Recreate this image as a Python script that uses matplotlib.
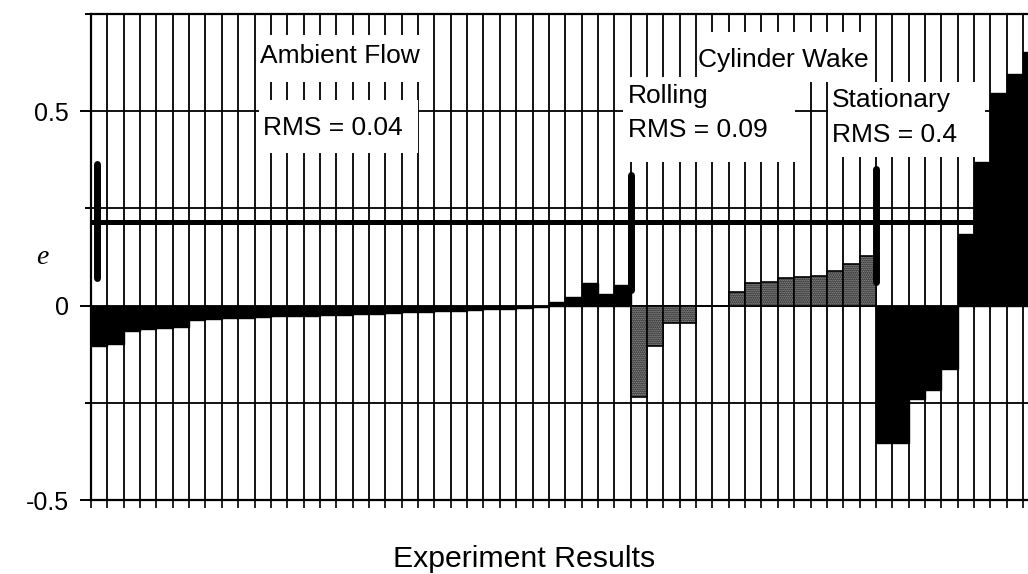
import numpy as np
import matplotlib
matplotlib.use("Agg")
import matplotlib.pyplot as plt
from matplotlib.patches import Rectangle

# Error e for each experiment run, grouped by flow condition
ambient_e = [-0.105, -0.100, -0.065, -0.060, -0.058, -0.055, -0.037, -0.035,
             -0.033, -0.031, -0.030, -0.028, -0.027, -0.026, -0.025, -0.023,
             -0.022, -0.021, -0.019, -0.017, -0.016, -0.015, -0.013, -0.012,
             -0.010, -0.008, -0.006, -0.004, 0.008, 0.022, 0.057, 0.031, 0.054]
rolling_e = [-0.235, -0.105, -0.046, -0.046, 0.0, 0.0, 0.035, 0.058, 0.060,
             0.071, 0.073, 0.077, 0.089, 0.108, 0.127]
stationary_e = [-0.354, -0.354, -0.240, -0.218, -0.163, 0.184, 0.369, 0.546,
                0.595, 0.652]

group_labels = ["Ambient Flow", "Rolling", "Stationary"]
group_rms = [0.04, 0.09, 0.4]
wake_label = "Cylinder Wake"

reference_e = 0.216
# group boundary markers: (position in runs, low e, high e)
marker_pos = [0.34, 33.0, 48.0]
marker_low = [0.07, 0.04, 0.06]
marker_high = [0.365, 0.335, 0.352]

yticks = [-0.5, 0, 0.5]
ytick_labels = ["-0.5", "0", "0.5"]

W, H, DPI = 1028, 574, 100
AX_L, AX_R, AX_T, AX_B = 91, 1028, 14, 500
XLIM = (0, 57.3)
YLIM = (-0.5, 0.75)

plt.rcParams["font.family"] = ["Liberation Sans", "DejaVu Sans"]

fig = plt.figure(figsize=(W / DPI, H / DPI), dpi=DPI)
ax = fig.add_axes([AX_L / W, (H - AX_B) / H, (AX_R - AX_L) / W, (AX_B - AX_T) / H])


def px(xp, yp):
    """Figure pixel position -> data coordinates of the axes."""
    x = XLIM[0] + (xp - AX_L) / (AX_R - AX_L) * (XLIM[1] - XLIM[0])
    y = YLIM[1] - (yp - AX_T) / (AX_B - AX_T) * (YLIM[1] - YLIM[0])
    return x, y


n_amb, n_rol, n_sta = len(ambient_e), len(rolling_e), len(stationary_e)
x_amb = np.arange(n_amb)
x_rol = np.arange(n_rol) + n_amb
x_sta = np.arange(n_sta) + n_amb + n_rol
n_total = n_amb + n_rol + n_sta

ax.bar(x_amb, ambient_e, width=1.0, align="edge", color="black",
       edgecolor="black", linewidth=1.0, zorder=3)
ax.bar(x_rol, rolling_e, width=1.0, align="edge", color="#a6a6a6",
       edgecolor="black", linewidth=1.2, hatch="........", zorder=3)
ax.bar(x_sta, stationary_e, width=1.0, align="edge", color="black",
       edgecolor="black", linewidth=1.0, zorder=3)

ax.axhline(reference_e, color="black", linewidth=3.6, zorder=4)
ax.vlines(marker_pos, marker_low, marker_high, color="black", linewidth=5,
          capstyle="round", zorder=4)

# grid: every run boundary and every 0.25 in e
ax.set_xticks(np.arange(0, n_total + 1))
ax.set_xticklabels([])
ax.set_yticks(yticks)
ax.set_yticklabels(ytick_labels)
ax.set_yticks([-0.25, 0.25, 0.75], minor=True)
ax.set_xlim(*XLIM)
ax.set_ylim(*YLIM)
ax.tick_params(axis="x", direction="out", length=5.8, width=1.2, color="black")
ax.tick_params(axis="y", which="major", direction="out", length=8, width=1.4,
               pad=8, labelsize=18)
ax.tick_params(axis="y", which="minor", direction="out", length=4.3, width=1.4)
ax.grid(True, axis="x", which="major", color="black", linewidth=1.3)
ax.grid(True, axis="y", which="both", color="black", linewidth=1.3)
ax.set_axisbelow(True)
for side in ("left", "top", "bottom"):
    ax.spines[side].set_linewidth(1.6)
ax.spines["right"].set_visible(False)

# white label panels
panels = [(259, 35, 420, 82), (259, 100, 418, 153), (697, 32, 875, 82),
          (623, 77, 795, 162), (828, 82, 985, 157)]
for x0p, y0p, x1p, y1p in panels:
    x0, y1 = px(x0p, y0p)
    x1, y0 = px(x1p, y1p)
    ax.add_patch(Rectangle((x0, y0), x1 - x0, y1 - y0, facecolor="white",
                           edgecolor="none", zorder=6, clip_on=False))

labels = [
    (group_labels[0], 260, 63),
    (f"RMS = {group_rms[0]}", 263, 135),
    (wake_label, 698, 67),
    (group_labels[1], 628, 103),
    (f"RMS = {group_rms[1]}", 628, 137),
    (group_labels[2], 832, 107),
    (f"RMS = {group_rms[2]}", 832, 142),
]
for text, xp, yp in labels:
    x, y = px(xp, yp)
    ax.text(x, y, text, fontsize=19, ha="left", va="baseline", zorder=7)

fig.text(42 / W, (H - 258) / H, "e", family=["Liberation Serif", "DejaVu Serif"],
         style="italic", fontsize=20, ha="center", va="center")
fig.text(524 / W, (H - 567) / H, "Experiment Results", fontsize=21.8,
         ha="center", va="baseline")

fig.savefig("out.png", dpi=DPI)
